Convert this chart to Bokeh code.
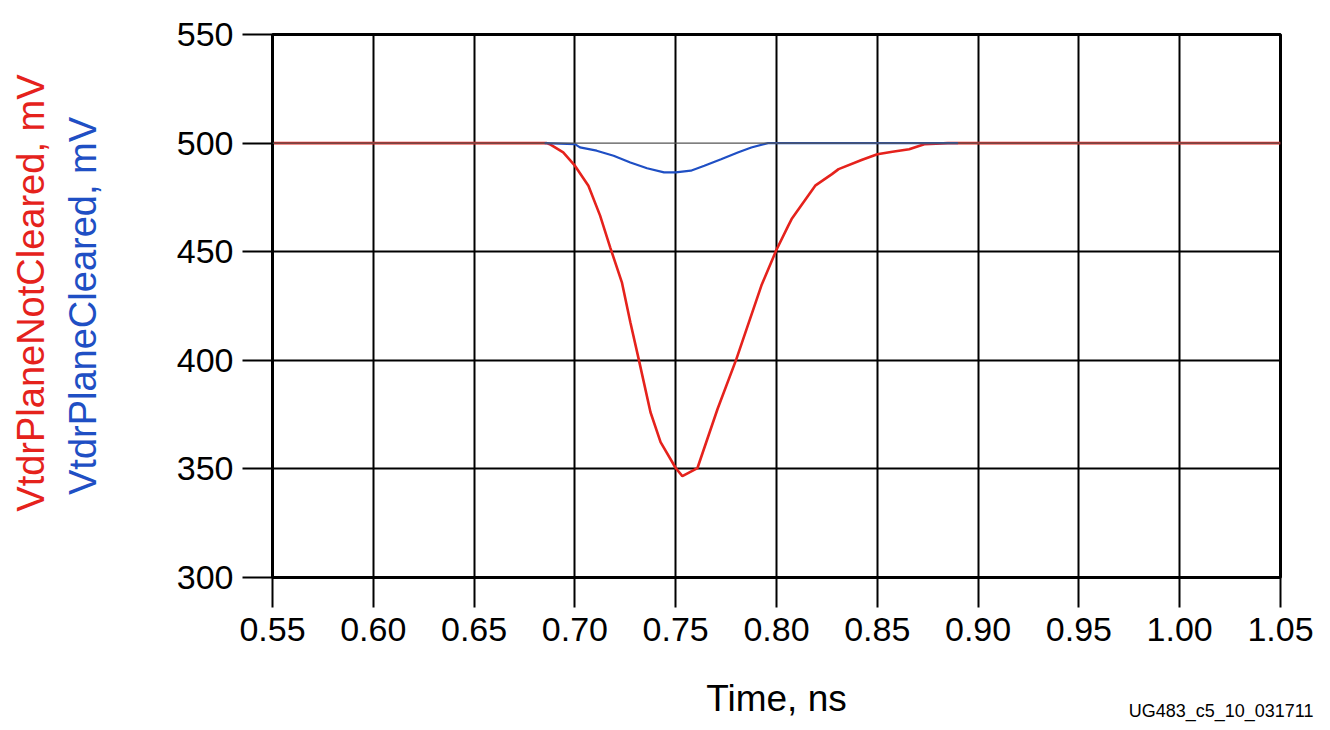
from bokeh.plotting import figure
from bokeh.models import Range1d, FixedTicker, Span, Title
from bokeh.embed import file_html
from bokeh.resources import INLINE

# Data
time_ticks = [0.55, 0.60, 0.65, 0.70, 0.75, 0.80, 0.85, 0.90, 0.95, 1.00, 1.05]
mv_ticks = [300, 350, 400, 450, 500, 550]

red_t = [0.55, 0.686, 0.6875, 0.6942, 0.70, 0.7067, 0.7125, 0.7175, 0.7233, 0.7275,
         0.7317, 0.7375, 0.7425, 0.75, 0.7533, 0.7608, 0.7708, 0.78, 0.7925, 0.80,
         0.8058, 0.8075, 0.8192, 0.8275, 0.8308, 0.8425, 0.85, 0.8575, 0.8658,
         0.8733, 0.885, 1.05]
red_v = [500, 500, 499.5, 495.7, 489.6, 480.4, 466.6, 452.0, 435.9, 417.5,
         400.3, 376.1, 362.3, 350.4, 346.7, 350.4, 377.7, 400.3, 434.4, 450.9,
         461.9, 465.0, 480.4, 485.7, 488.0, 492.3, 494.9, 496.0, 497.2,
         499.5, 500, 500]

blue_t = [0.685, 0.70, 0.7025, 0.7108, 0.7192, 0.7275, 0.7358, 0.7442, 0.75, 0.7575,
          0.7642, 0.7725, 0.7808, 0.7875, 0.7958, 0.89]
blue_v = [500, 499.5, 498.0, 496.5, 494.2, 491.1, 488.4, 486.5, 486.5, 487.3,
          489.6, 492.6, 495.7, 498.0, 500, 500]

FONT = "Liberation Sans"
RED = "#e5221c"
BLUE = "#1f4fc4"

p = figure(width=1330, height=730, output_backend="svg", toolbar_location=None,
           x_range=Range1d(0.55, 1.05), y_range=Range1d(300, 550),
           min_border_left=272, min_border_right=50, min_border_top=34, min_border_bottom=153)
p.background_fill_color = "white"
p.border_fill_color = "white"
p.outline_line_color = "black"
p.outline_line_width = 3

# axes
for ax in (p.xaxis[0], p.yaxis[0]):
    ax.axis_line_color = "black"
    ax.axis_line_width = 3
    ax.major_tick_line_color = "black"
    ax.major_tick_line_width = 2
    ax.major_tick_in = 0
    ax.major_tick_out = 30
    ax.minor_tick_line_color = None
    ax.major_label_text_font = FONT
    ax.major_label_text_font_size = "34px"
    ax.major_label_text_color = "black"
    ax.axis_label_text_font = FONT
    ax.axis_label_text_font_style = "normal"

p.xaxis.ticker = FixedTicker(ticks=time_ticks)
p.xaxis.major_label_overrides = {t: f"{t:.2f}" for t in time_ticks}
p.xaxis.major_label_standoff = 10
p.xaxis.axis_label = "Time, ns"
p.xaxis.axis_label_text_font_size = "37px"
p.xaxis.axis_label_text_color = "black"
p.xaxis.axis_label_standoff = 34

p.yaxis.ticker = FixedTicker(ticks=mv_ticks)
p.yaxis.major_label_standoff = 9
p.yaxis.axis_label = "VtdrPlaneCleared, mV"
p.yaxis.axis_label_text_font_size = "38px"
p.yaxis.axis_label_text_color = BLUE
p.yaxis.axis_label_standoff = 70

# grid
p.xgrid.ticker = FixedTicker(ticks=time_ticks)
p.xgrid.grid_line_color = "black"
p.xgrid.grid_line_width = 2
p.ygrid.ticker = FixedTicker(ticks=[350, 400, 450])
p.ygrid.grid_line_color = "black"
p.ygrid.grid_line_width = 2
p.add_layout(Span(location=500, dimension="width", line_color="#555555", line_width=1.2))

# curves
p.line(red_t, red_v, line_color=RED, line_width=2.6)
p.line(blue_t, blue_v, line_color=BLUE, line_width=2.2)

# outer (red) y-axis title
p.add_layout(Title(text="VtdrPlaneNotCleared, mV", align="right", text_color=RED,
                   text_font=FONT, text_font_size="38px", text_font_style="normal",
                   standoff=14, offset=40), "left")

# figure id
p.add_layout(Title(text="UG483_c5_10_031711", align="right", vertical_align="top",
                   text_color="black", text_font=FONT, text_font_size="18px",
                   text_font_style="normal", standoff=-42, offset=-33), "below")

open("out.html", "w").write(file_html(p, INLINE))
